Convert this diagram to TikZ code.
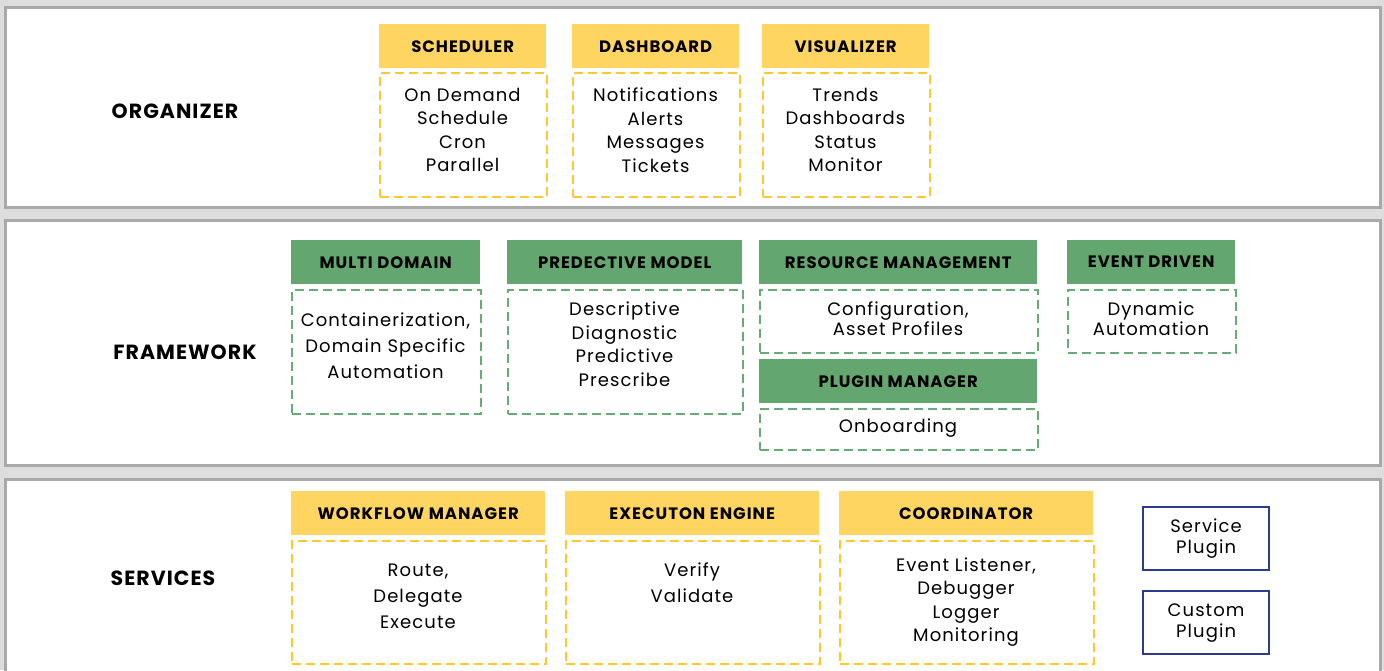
\documentclass[tikz,border=0pt]{standalone}
\usepackage{fontspec}
\setmainfont{Poppins}
\definecolor{bggray}{HTML}{DCDDDC}
\definecolor{pborder}{HTML}{A8A9A9}
\definecolor{yheadc}{HTML}{FFD561}
\definecolor{ydash}{HTML}{FFC82E}
\definecolor{gheadc}{HTML}{64A66F}
\definecolor{gdash}{HTML}{6AAA77}
\definecolor{navy}{HTML}{2E3A8E}
\newcommand{\bodyfont}[1]{\fontsize{18}{#1}\selectfont\addfontfeature{LetterSpace=6}}
\begin{document}
\begin{tikzpicture}[x=1pt,y=-1pt,
  panel/.style={fill=white,draw=pborder,line width=3pt},
  hbox/.style={anchor=north west,inner sep=0pt,minimum height=44,font=\fontsize{16.5}{19}\selectfont\bfseries\addfontfeature{LetterSpace=6},text=black},
  yh/.style={hbox,fill=yheadc},
  gh/.style={hbox,fill=gheadc},
  dbox/.style={anchor=north west,inner sep=0pt,line width=2pt,dash pattern=on 9pt off 5pt},
  yb/.style={dbox,draw=ydash},
  gb/.style={dbox,draw=gdash},
  btxt/.style={align=center,inner sep=0pt,font=\bodyfont{23.5},text=black},
  plug/.style={anchor=north west,draw=navy,line width=2.2pt,align=center,inner sep=0pt,minimum width=126,minimum height=63,font=\bodyfont{21}},
  lbl/.style={inner sep=0pt,font=\fontsize{20.5}{24}\selectfont\bfseries\addfontfeature{LetterSpace=5}}
]
\useasboundingbox (0,0) rectangle (1384,670);
\clip (0,0) rectangle (1384,670);
\fill[bggray] (0,0) rectangle (1384,670);
% panels
\draw[panel] (5,7) rectangle (1380,207);
\draw[panel] (5,220) rectangle (1380,465);
\draw[panel] (5,479) rectangle (1380,690);
% labels
\node[lbl] (org) at (175,111) {ORGANIZER};
\node[lbl] (fw) at (185,352) {FRAMEWORK};
\node[lbl] (srv) at (163,578) {SERVICES};
% organizer
\node[yh,minimum width=167] (sch) at (379,24) {SCHEDULER};
\node[yb,minimum width=167,minimum height=124] (schb) at (379,72) {};
\node[btxt] (scht) at (462.5,130) {On Demand\\Schedule\\Cron\\Parallel};
\node[yh,minimum width=167] (dash) at (572,24) {DASHBOARD};
\node[yb,minimum width=167,minimum height=124] (dashb) at (572,72) {};
\node[btxt] (dasht) at (655.5,130) {Notifications\\Alerts\\Messages\\Tickets};
\node[yh,minimum width=167] (vis) at (762,24) {VISUALIZER};
\node[yb,minimum width=167,minimum height=124] (visb) at (762,72) {};
\node[btxt] (vist) at (845.5,130) {Trends\\Dashboards\\Status\\Monitor};
% framework
\node[gh,minimum width=189] (md) at (291,240) {MULTI DOMAIN};
\node[gb,minimum width=189,minimum height=124] (mdb) at (291,289) {};
\node[btxt,font=\bodyfont{26}] (mdt) at (385.5,346) {Containerization,\\Domain Specific\\Automation};
\node[gh,minimum width=235] (pm) at (507,240) {PREDECTIVE MODEL};
\node[gb,minimum width=235,minimum height=124] (pmb) at (507,289) {};
\node[btxt] (pmt) at (624.5,344) {Descriptive\\Diagnostic\\Predictive\\Prescribe};
\node[gh,minimum width=278] (rm) at (759,240) {RESOURCE MANAGEMENT};
\node[gb,minimum width=278,minimum height=63] (rmb) at (759,289) {};
\node[btxt,font=\bodyfont{20}] (rmt) at (898,319) {Configuration,\\Asset Profiles};
\node[gh,minimum width=278] (plm) at (759,359) {PLUGIN MANAGER};
\node[gb,minimum width=278,minimum height=41] (plmb) at (759,408) {};
\node[btxt] (plmt) at (898,428) {Onboarding};
\node[gh,minimum width=168] (ed) at (1067,240) {EVENT DRIVEN};
\node[gb,minimum width=168,minimum height=63] (edb) at (1067,289) {};
\node[btxt,font=\bodyfont{20}] (edt) at (1151,319) {Dynamic\\Automation};
% services
\node[yh,minimum width=254] (wm) at (291,491) {WORKFLOW MANAGER};
\node[yb,minimum width=254,minimum height=123] (wmb) at (291,540) {};
\node[btxt,font=\bodyfont{26}] (wmt) at (418,596) {Route,\\Delegate\\Execute};
\node[yh,minimum width=254] (ee) at (565,491) {EXECUTON ENGINE};
\node[yb,minimum width=254,minimum height=123] (eeb) at (565,540) {};
\node[btxt,font=\bodyfont{26}] (eet) at (692,583) {Verify\\Validate};
\node[yh,minimum width=254] (co) at (839,491) {COORDINATOR};
\node[yb,minimum width=254,minimum height=123] (cob) at (839,540) {};
\node[btxt] (cot) at (966,602) {Event Listener,\\Debugger\\Logger\\Monitoring};
\node[plug] (sp) at (1142,506) {Service\\Plugin};
\node[plug] (cp) at (1142,590) {Custom\\Plugin};
\end{tikzpicture}
\end{document}
